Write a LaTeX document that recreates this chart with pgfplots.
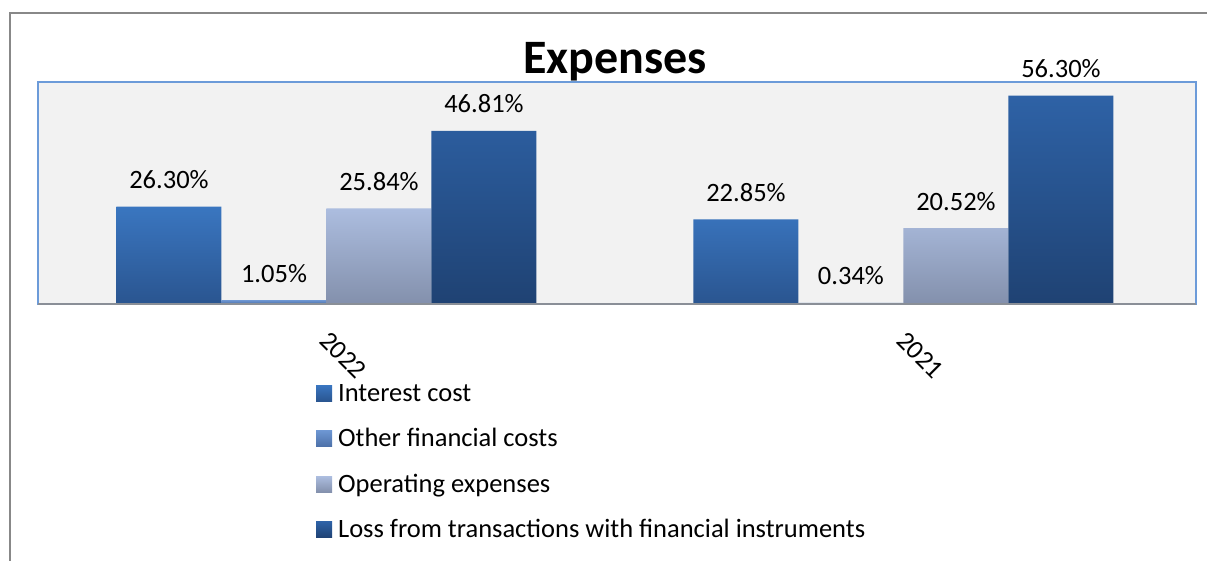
\documentclass[border=0pt]{standalone}
\usepackage{fontspec}
\setmainfont{Carlito}
\usepackage{pgfplots}
\pgfplotsset{compat=1.18}
\definecolor{outergray}{HTML}{888888}
\definecolor{plotbg}{HTML}{F2F2F2}
\definecolor{plotborder}{HTML}{6C9BD9}
\definecolor{axisgray}{HTML}{8A8F97}
\definecolor{intTop}{HTML}{3A76C0}
\definecolor{intBot}{HTML}{2A5590}
\definecolor{othTop}{HTML}{6D96D2}
\definecolor{othBot}{HTML}{4C70A8}
\definecolor{opTop}{HTML}{ACBDDF}
\definecolor{opBot}{HTML}{8390AC}
\definecolor{lossTop}{HTML}{2E62A6}
\definecolor{lossBot}{HTML}{1F4273}
\pgfplotsset{
  sqlegend/.style={legend image code/.code={\path[##1,draw=none] (0pt,-6pt) rectangle (16pt,10pt);}}
}
\begin{document}
\begin{tikzpicture}[x=1pt,y=1pt]
\useasboundingbox (0,0) rectangle (1207,-560);
\draw[color=outergray, line width=2pt] (10,-600) -- (10,-13) -- (1250,-13);
\begin{axis}[
  at={(38pt,-304pt)}, anchor=south west,
  scale only axis, width=1158pt, height=222pt,
  xmin=-0.5, xmax=1.507, ymin=0, ymax=60,
  xtick={0,1}, xticklabels={2022,2021},
  ytick=\empty,
  major tick length=0pt,
  axis background/.style={fill=plotbg},
  axis line style={draw=plotborder, line width=1.5pt},
  ybar=0pt, bar width=105pt,
  /pgf/number format/assume math mode=true,
  nodes near coords={\pgfmathprintnumber[fixed,fixed zerofill,precision=2]{\pgfplotspointmeta}\%},
  every node near coord/.append style={font=\fontsize{26.5}{30}\selectfont, anchor=base, yshift=18pt, text=black},
  xticklabel style={font=\fontsize{26.5}{30}\selectfont, rotate=-45, anchor=north west, inner sep=0pt, xshift=21pt, yshift=-15.5pt},
  title={Expenses},
  title style={font=\fontsize{48}{56}\selectfont\bfseries, at={(0.5,1)}, anchor=base, yshift=3pt, xshift=-2pt},
  legend cell align=left,
  legend style={at={(0.24,-0.356)}, anchor=north west, draw=none, fill=none, inner sep=0pt,
    font=\fontsize{26.5}{30}\selectfont, row sep=21.5pt, column sep=6pt,
    nodes={inner sep=0pt, text height=18pt, text depth=6pt}},
  clip=false,
]
\addplot[draw=none, top color=intTop, bottom color=intBot, sqlegend] coordinates {(0,26.30) (1,22.85)};
\addplot[draw=none, top color=othTop, bottom color=othBot, sqlegend] coordinates {(0,1.05) (1,0.34)};
\addplot[draw=none, top color=opTop, bottom color=opBot, sqlegend] coordinates {(0,25.84) (1,20.52)};
\addplot[draw=none, top color=lossTop, bottom color=lossBot, sqlegend] coordinates {(0,46.81) (1,56.30)};
\legend{Interest cost, Other financial costs, Operating expenses, Loss from transactions with financial instruments}
\draw[axisgray, line width=2pt] (rel axis cs:0,0) -- (rel axis cs:1,0);
\end{axis}
\end{tikzpicture}
\end{document}
